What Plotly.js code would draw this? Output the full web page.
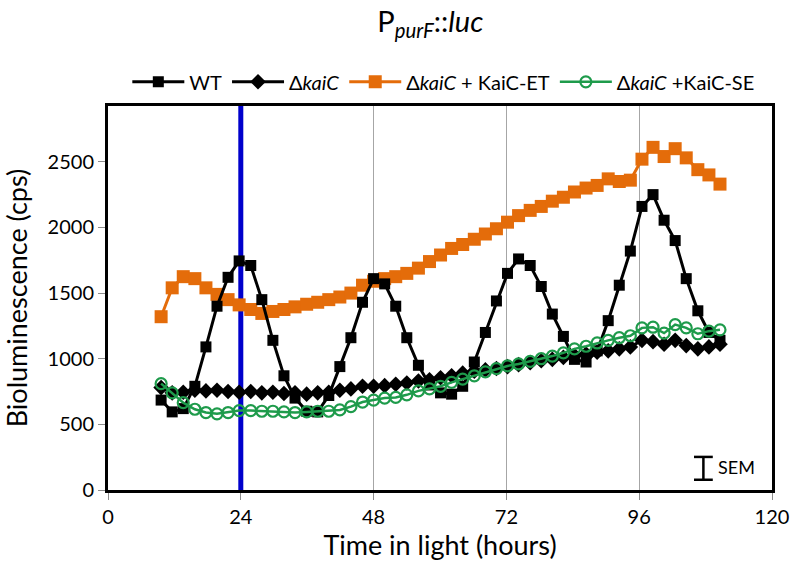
<!DOCTYPE html>
<html>
<head>
<meta charset="utf-8">
<script src="https://cdn.plot.ly/plotly-3.0.1.min.js"></script>
<style>html,body{margin:0;padding:0;background:#fff;}#chart{width:794px;height:570px;}</style>
</head>
<body>
<div id="chart"></div>
<script>
// Time in light (hours)
const hours = [9.6, 11.6, 13.6, 15.7, 17.7, 19.7, 21.7, 23.7, 25.8, 27.8,
  29.8, 31.8, 33.8, 35.9, 37.9, 39.9, 41.9, 43.9, 46.0, 48.0,
  50.0, 52.0, 54.0, 56.1, 58.1, 60.1, 62.1, 64.1, 66.2, 68.2,
  70.2, 72.2, 74.2, 76.3, 78.3, 80.3, 82.3, 84.3, 86.4, 88.4,
  90.4, 92.4, 94.4, 96.5, 98.5, 100.5, 102.5, 104.5, 106.6, 108.6, 110.6];

// WT
const wt = [685, 595, 620, 790, 1090, 1400, 1620, 1745, 1710, 1450,
  1140, 870, 700, 600, 595, 720, 940, 1160, 1430, 1610,
  1570, 1400, 1160, 950, 800, 740, 730, 790, 975, 1200,
  1440, 1650, 1760, 1710, 1550, 1340, 1170, 995, 975, 1060,
  1290, 1560, 1820, 2160, 2250, 2055, 1900, 1610, 1365, 1200, 1140];

// ΔkaiC
const dKaiC = [780, 740, 745, 760, 755, 760, 750, 745, 750, 740,
  745, 735, 740, 730, 740, 745, 760, 770, 790, 790,
  795, 805, 815, 830, 840, 855, 870, 890, 905, 915,
  925, 940, 955, 970, 985, 995, 1010, 1025, 1035, 1050,
  1060, 1075, 1090, 1140, 1130, 1110, 1140, 1100, 1075, 1090, 1110];

// ΔkaiC + KaiC-ET
const kaiCET = [1320, 1540, 1625, 1610, 1540, 1490, 1450, 1410, 1375, 1345,
  1360, 1375, 1395, 1415, 1430, 1450, 1470, 1500, 1560, 1590,
  1610, 1625, 1650, 1690, 1740, 1790, 1840, 1870, 1910, 1950,
  1990, 2040, 2090, 2130, 2160, 2200, 2230, 2270, 2300, 2320,
  2370, 2350, 2360, 2520, 2610, 2540, 2600, 2530, 2440, 2400, 2330];

// ΔkaiC + KaiC-SE
const kaiCSE = [810, 740, 665, 615, 590, 580, 590, 605, 605, 600,
  600, 595, 590, 595, 600, 600, 610, 635, 670, 685,
  700, 705, 725, 755, 770, 790, 820, 845, 870, 900,
  925, 945, 960, 980, 1000, 1020, 1045, 1075, 1095, 1120,
  1140, 1160, 1175, 1235, 1240, 1195, 1260, 1235, 1190, 1210, 1220];

const xTicks = [0, 24, 48, 72, 96, 120];
const yTicks = [0, 500, 1000, 1500, 2000, 2500];
const yMax = 2925;
const markTime = 24;

const FONT = 'Lato, "Open Sans", "DejaVu Sans", sans-serif';

const traces = [
  {x: [markTime, markTime], y: [0, yMax], mode: 'lines', showlegend: false, hoverinfo: 'skip',
   line: {color: '#0000CC', width: 5}},
  {x: hours, y: kaiCET, name: 'Δ<i>kaiC</i> + KaiC-ET', legendrank: 3, mode: 'lines+markers',
   line: {color: '#E46C0A', width: 3}, marker: {symbol: 'square', size: 13, color: '#E46C0A'}},
  {x: hours, y: wt, name: 'WT', legendrank: 1, mode: 'lines+markers',
   line: {color: '#000000', width: 3}, marker: {symbol: 'square', size: 11, color: '#000000'}},
  {x: hours, y: dKaiC, name: 'Δ<i>kaiC</i>', legendrank: 2, mode: 'lines+markers',
   line: {color: '#000000', width: 3}, marker: {symbol: 'diamond', size: 12, color: '#000000'}},
  {x: hours, y: kaiCSE, name: 'Δ<i>kaiC</i> +KaiC-SE', legendrank: 4, mode: 'lines+markers',
   line: {color: '#1E9B4B', width: 2.5}, marker: {symbol: 'circle-open', size: 11, color: '#1E9B4B', line: {width: 2.2, color: '#1E9B4B'}}}
];

const layout = {
  width: 794, height: 570,
  margin: {l: 108, r: 22, t: 106, b: 80},
  paper_bgcolor: '#ffffff', plot_bgcolor: '#ffffff',
  font: {family: FONT, color: '#000000'},
  title: {text: 'P<sub><i>purF</i></sub>::<i>luc</i>', font: {size: 29, family: FONT},
          x: 0.542, xanchor: 'center', y: 0.962, yanchor: 'middle'},
  showlegend: true,
  legend: {orientation: 'h', x: 0.505, xanchor: 'center', y: 1.063, yanchor: 'middle',
           font: {size: 20, family: FONT}, itemwidth: 52, traceorder: 'normal', bgcolor: 'rgba(0,0,0,0)'},
  xaxis: {range: [0, 120], tickvals: xTicks, ticktext: xTicks.map(String),
          showgrid: true, gridcolor: '#A6A6A6', gridwidth: 1, zeroline: false,
          showline: true, linecolor: '#000000', linewidth: 3, mirror: true,
          ticks: 'outside', ticklen: 7, tickcolor: '#8C8C8C', tickwidth: 1,
          tickfont: {size: 20, family: FONT},
          title: {text: 'Time in light (hours)', font: {size: 27, family: FONT}, standoff: 8}},
  yaxis: {range: [0, yMax], tickvals: yTicks, ticktext: yTicks.map(String),
          showgrid: false, zeroline: false,
          showline: true, linecolor: '#000000', linewidth: 3, mirror: true,
          ticks: 'outside', ticklen: 7, tickcolor: '#8C8C8C', tickwidth: 1,
          tickfont: {size: 20, family: FONT},
          title: {text: 'Bioluminescence (cps)', font: {size: 27, family: FONT}, standoff: 14}},
  shapes: [
    {type: 'line', xref: 'x', yref: 'y', x0: 107.6, x1: 107.6, y0: 78, y1: 252, line: {color: '#000', width: 2.5}},
    {type: 'line', xref: 'x', yref: 'y', x0: 105.9, x1: 109.3, y0: 78, y1: 78, line: {color: '#000', width: 2.5}},
    {type: 'line', xref: 'x', yref: 'y', x0: 105.9, x1: 109.3, y0: 252, y1: 252, line: {color: '#000', width: 2.5}}
  ],
  annotations: [
    {text: 'SEM', xref: 'x', yref: 'y', x: 109.8, y: 175, xanchor: 'left', yanchor: 'middle',
     showarrow: false, font: {size: 18, family: FONT}}
  ]
};

Plotly.newPlot('chart', traces, layout, {displayModeBar: false, staticPlot: true});
</script>
</body>
</html>
